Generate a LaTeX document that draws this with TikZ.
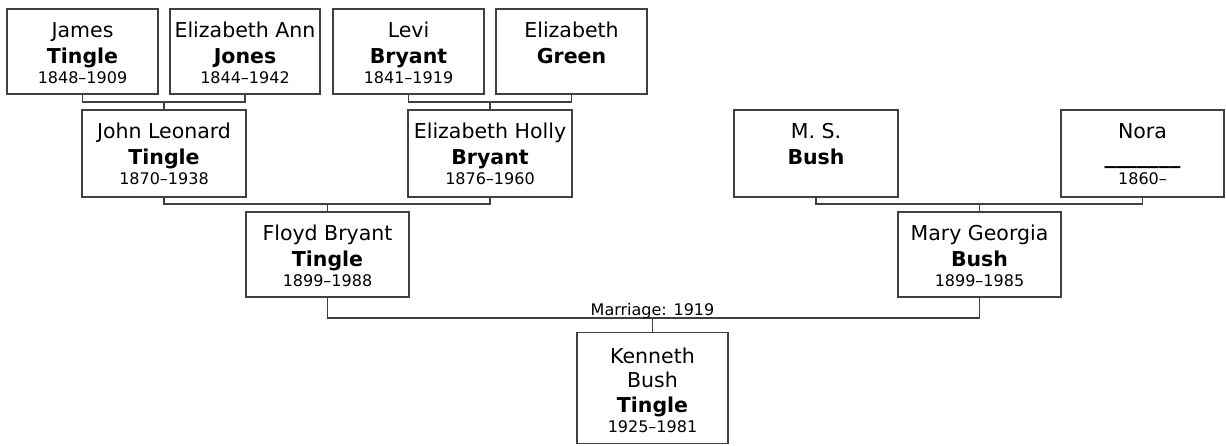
\documentclass[tikz,border=0pt]{standalone}
\usepackage{fontspec}
\setmainfont{DejaVu Sans}
\begin{document}
\begin{tikzpicture}[x=1pt,y=-1pt,
  person/.style={draw=black!75, line width=1.4pt, fill=white, rectangle, inner sep=0pt, outer sep=0pt},
  nm/.style={anchor=base, inner sep=0pt, font=\fontsize{20.5}{24}\selectfont},
  sn/.style={anchor=base, inner sep=0pt, font=\fontsize{20.5}{24}\selectfont\bfseries},
  dt/.style={anchor=base, inner sep=0pt, font=\fontsize{16}{19}\selectfont},
  link/.style={draw=black!75, line width=1.4pt}]
\useasboundingbox (0,0) rectangle (1226,445);
\newcommand{\pbox}[5]{\node[person, minimum width=#4pt, minimum height=#5pt] (#1) at (#2,#3) {};}
% boxes
\pbox{james}{82.5}{51.5}{151}{85}
\pbox{elizann}{245}{51.5}{150}{85}
\pbox{levi}{408.5}{51.5}{151}{85}
\pbox{green}{571.5}{51.5}{151}{85}
\pbox{john}{164}{153.5}{164}{87}
\pbox{ehb}{490}{153.5}{164}{87}
\pbox{ms}{816}{153.5}{164}{87}
\pbox{nora}{1142.5}{153.5}{163}{87}
\pbox{floyd}{327.5}{254.5}{163}{85}
\pbox{mary}{979.5}{254.5}{163}{85}
\pbox{kenneth}{652.5}{388}{151}{111}
% texts row 1
\node[nm] (james1) at (82.5,37.5) {James};
\node[sn] (james2) at (82.5,63.5) {Tingle};
\node[dt] (james3) at (82.5,83.5) {1848–1909};
\node[nm] (elizann1) at (245,37.5) {Elizabeth Ann};
\node[sn] (elizann2) at (245,63.5) {Jones};
\node[dt] (elizann3) at (245,83.5) {1844–1942};
\node[nm] (levi1) at (408.5,37.5) {Levi};
\node[sn] (levi2) at (408.5,63.5) {Bryant};
\node[dt] (levi3) at (408.5,83.5) {1841–1919};
\node[nm] (green1) at (571.5,37.5) {Elizabeth};
\node[sn] (green2) at (571.5,63.5) {Green};
% row 2
\node[nm] (john1) at (164,138.5) {John Leonard};
\node[sn] (john2) at (164,164.5) {Tingle};
\node[dt] (john3) at (164,184.5) {1870–1938};
\node[nm] (ehb1) at (490,138.5) {Elizabeth Holly};
\node[sn] (ehb2) at (490,164.5) {Bryant};
\node[dt] (ehb3) at (490,184.5) {1876–1960};
\node[nm] (ms1) at (816,138.5) {M. S.};
\node[sn] (ms2) at (816,164.5) {Bush};
\node[nm] (nora1) at (1142.5,138.5) {Nora};
\node[anchor=base, inner sep=0pt, font=\fontsize{21.7}{24}\selectfont\bfseries] (nora2) at (1142.5,163) {\_\_\_\_\_\_\_};
\node[dt] (nora3) at (1142.5,184.5) {1860–};
% row 3
\node[nm] (floyd1) at (327.5,240.5) {Floyd Bryant};
\node[sn] (floyd2) at (327.5,266.5) {Tingle};
\node[dt] (floyd3) at (327.5,286.5) {1899–1988};
\node[nm] (mary1) at (979.5,240.5) {Mary Georgia};
\node[sn] (mary2) at (979.5,266.5) {Bush};
\node[dt] (mary3) at (979.5,286.5) {1899–1985};
% kenneth
\node[nm] (ken1) at (652.5,363) {Kenneth};
\node[nm] (ken2) at (652.5,387) {Bush};
\node[sn] (ken3) at (652.5,412) {Tingle};
\node[dt] (ken4) at (652.5,432) {1925–1981};
% junctions
\coordinate (j1) at (164,102);
\coordinate (j2) at (490,102);
\coordinate (j3) at (327.5,204);
\coordinate (j4) at (979.5,204);
\coordinate (j5) at (652.5,318);
% connectors
\draw[link] (james.south) |- (j1) -| (elizann.south);
\draw[link] (j1) -- (john.north);
\draw[link] (levi.south) |- (j2) -| (green.south);
\draw[link] (j2) -- (ehb.north);
\draw[link] (john.south) |- (j3) -| (ehb.south);
\draw[link] (j3) -- (floyd.north);
\draw[link] (ms.south) |- (j4) -| (nora.south);
\draw[link] (j4) -- (mary.north);
\draw[link] (floyd.south) |- (j5) -| (mary.south);
\draw[link] (j5) -- (kenneth.north);
\node[dt] (marr) at (652.5,315) {Marriage: 1919};
\end{tikzpicture}
\end{document}
